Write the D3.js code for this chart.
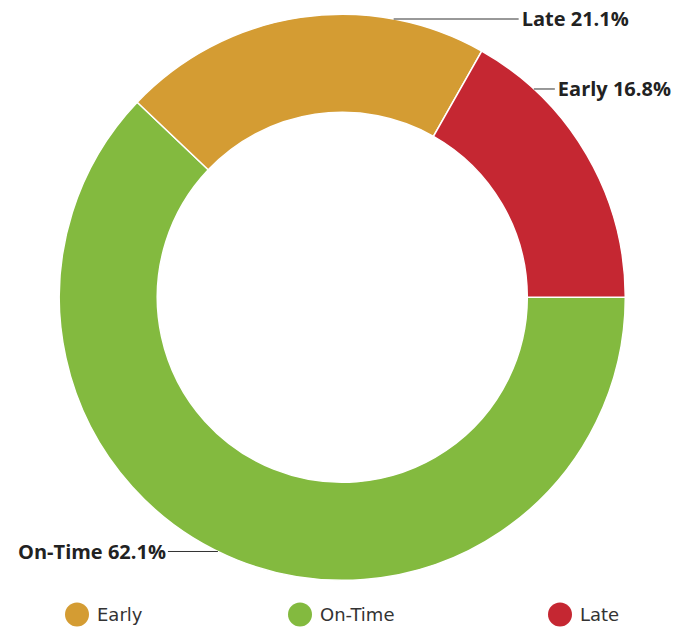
<!DOCTYPE html>
<html>
<head>
<meta charset="utf-8">
<script src="https://cdn.jsdelivr.net/npm/d3@7/dist/d3.min.js"></script>
<style>
  html, body { margin: 0; padding: 0; background: #fff; }
  svg { display: block; font-family: "DejaVu Sans", sans-serif; }
</style>
</head>
<body>
<svg id="chart" width="691" height="629"></svg>
<script>
// ---- data ----
const sliceLabels = ["On-Time", "Late", "Early"];
const sliceValues = [62.1, 21.1, 16.8];
const sliceColors = ["#83BA3F", "#D49C33", "#C52732"];

const legendLabels = ["Early", "On-Time", "Late"];
const legendColors = ["#D49C33", "#83BA3F", "#C52732"];

// ---- layout ----
const W = 691, H = 629;
const cx = 342.3, cy = 297.3;
const outerR = 283, innerR = 185;
// horizontal leader line y and side for each slice label
const labelLayout = [
  { y: 551.5, side: "left",  len: 50 },
  { y: 19,    side: "right", len: 125 },
  { y: 89,    side: "right", len: 21 }
];
const legendX = [77, 300, 560];
const legendY = 614.5;

const svg = d3.select("#chart");
const g = svg.append("g").attr("transform", `translate(${cx},${cy})`);

const pie = d3.pie().sort(null).value(d => d)
  .startAngle(Math.PI / 2).endAngle(Math.PI / 2 + 2 * Math.PI);
const arcs = pie(sliceValues);
const arc = d3.arc().innerRadius(innerR).outerRadius(outerR);

g.selectAll("path.slice").data(arcs).enter().append("path")
  .attr("class", "slice")
  .attr("d", arc)
  .attr("fill", (d, i) => sliceColors[i])
  .attr("stroke", "#fff")
  .attr("stroke-width", 1.5);

// labels with leader lines
arcs.forEach((d, i) => {
  const L = labelLayout[i];
  const yRel = L.y - cy;
  const dx = Math.sqrt(Math.max(0, outerR * outerR - yRel * yRel));
  const x0 = L.side === "right" ? dx : -dx;
  const x1 = L.side === "right" ? x0 + L.len : x0 - L.len;
  g.append("line")
    .attr("x1", x0).attr("y1", yRel)
    .attr("x2", x1).attr("y2", yRel)
    .attr("stroke", "#333").attr("stroke-width", 1);
  g.append("text")
    .attr("x", L.side === "right" ? x1 + 3 : x1 - 2)
    .attr("y", yRel)
    .attr("dy", "0.36em")
    .attr("text-anchor", L.side === "right" ? "start" : "end")
    .attr("font-family", "'Open Sans', sans-serif")
    .attr("font-size", 20)
    .attr("font-weight", "bold")
    .attr("fill", "#222")
    .text(`${sliceLabels[i]} ${d3.format(".1f")(sliceValues[i])}%`);
});

// legend
const lg = svg.append("g");
legendLabels.forEach((lab, i) => {
  lg.append("circle")
    .attr("cx", legendX[i]).attr("cy", legendY).attr("r", 12)
    .attr("fill", legendColors[i]);
  lg.append("text")
    .attr("x", legendX[i] + 20).attr("y", legendY)
    .attr("dy", "0.36em")
    .attr("font-size", 18)
    .attr("fill", "#333")
    .text(lab);
});
</script>
</body>
</html>
